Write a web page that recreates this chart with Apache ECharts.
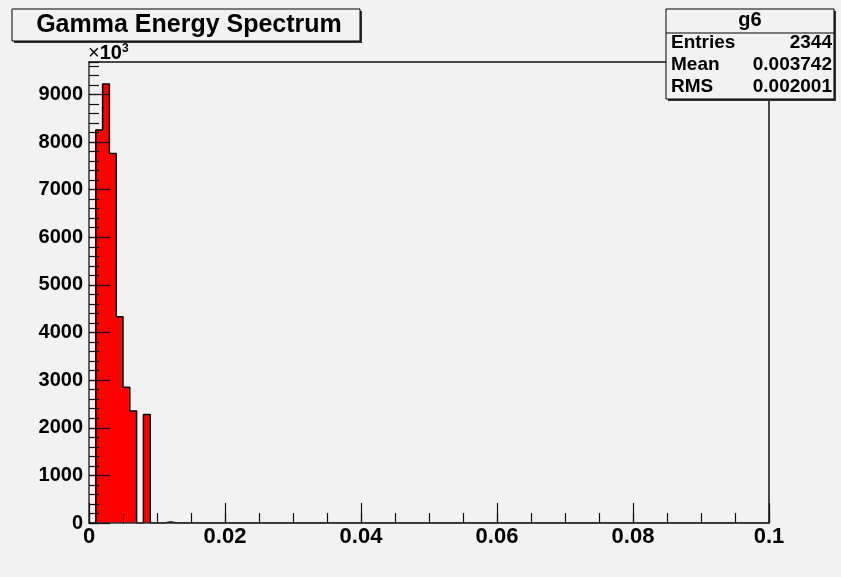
<!DOCTYPE html>
<html>
<head>
<meta charset="utf-8">
<script src="https://cdn.jsdelivr.net/npm/echarts@6/dist/echarts.min.js"></script>
<style>
html,body{margin:0;padding:0;background:#f2f2f2;}
#chart{width:841px;height:577px;}
</style>
</head>
<body>
<div id="chart"></div>
<script>
// ---- data (values in units of 10^3) ----
const histTitle = "Gamma Energy Spectrum";
const histName = "g6";
const xMin = 0, xMax = 0.1, nBins = 100;
const filledBinIndex = [1, 2, 3, 4, 5, 6, 8, 11];
const filledBinCounts = [8250, 9220, 7760, 4330, 2850, 2350, 2280, 20];
const yMax = 9680;
const xTickLabels = ["0", "0.02", "0.04", "0.06", "0.08", "0.1"];
const statsLabels = ["Entries", "Mean", "RMS"];
const statsValues = ["2344", "0.003742", "0.002001"];

// build full bin contents from the sparse lists
const binWidth = (xMax - xMin) / nBins;
const counts = new Array(nBins).fill(0);
filledBinIndex.forEach((b, i) => { counts[b] = filledBinCounts[i]; });
const stepData = counts.map((c, i) => [xMin + i * binWidth, c]);
stepData.push([xMax, 0]);

const FONT = 'Liberation Sans';
const chart = echarts.init(document.getElementById('chart'), null, {renderer: 'canvas'});

const commonAxis = {
  type: 'value', min: xMin, max: xMax, z: 5,
  splitLine: {show: false}
};

const statFont = 'bold 19px "Liberation Sans"';
const statTexts = [];
statsLabels.forEach((lab, i) => {
  const y = 43 + i * 22;
  statTexts.push({type: 'text', x: 671, y: y, style: {text: lab, font: statFont, fill: '#000', align: 'left', verticalAlign: 'middle'}, z: 12});
  statTexts.push({type: 'text', x: 832, y: y, style: {text: statsValues[i], font: statFont, fill: '#000', align: 'right', verticalAlign: 'middle'}, z: 12});
});

chart.setOption({
  backgroundColor: '#f2f2f2',
  animation: false,
  grid: {left: 89, right: 72, top: 62, bottom: 54},
  xAxis: [
    Object.assign({}, commonAxis, {
      position: 'bottom', interval: 0.02,
      axisLine: {show: true, onZero: false, lineStyle: {color: '#333', width: 1.5}},
      axisTick: {show: true, inside: true, length: 20, lineStyle: {color: '#111', width: 1.2}},
      axisLabel: {
        margin: 3, fontFamily: FONT, fontWeight: 'bold', fontSize: 22, color: '#000',
        formatter: (v) => { const i = Math.round(v / 0.02); return xTickLabels[i] !== undefined ? xTickLabels[i] : ''; }
      }
    }),
    Object.assign({}, commonAxis, {
      position: 'bottom', interval: 0.005,
      axisLine: {show: false, onZero: false},
      axisTick: {show: true, inside: true, length: 10, lineStyle: {color: '#111', width: 1.2}},
      axisLabel: {show: false}
    }),
    Object.assign({}, commonAxis, {
      position: 'top', interval: 0.02,
      axisLine: {show: true, onZero: false, lineStyle: {color: '#111', width: 1.5}},
      axisTick: {show: false}, axisLabel: {show: false}
    })
  ],
  yAxis: [
    {
      type: 'value', position: 'left', min: 0, max: yMax, interval: 1000, z: 5,
      splitLine: {show: false},
      axisLine: {show: true, onZero: false, lineStyle: {color: '#333', width: 1.5}},
      axisTick: {show: true, inside: true, length: 21, lineStyle: {color: '#111', width: 1.2}},
      axisLabel: {
        margin: 6, fontFamily: FONT, fontWeight: 'bold', fontSize: 20, color: '#000',
        showMaxLabel: false,
        formatter: (v) => (v % 1000 === 0 ? String(v) : '')
      }
    },
    {
      type: 'value', position: 'left', min: 0, max: yMax, interval: 200, z: 5,
      splitLine: {show: false},
      axisLine: {show: false, onZero: false},
      axisTick: {show: true, inside: true, length: 10, lineStyle: {color: '#111', width: 1.2}},
      axisLabel: {show: false}
    },
    {
      type: 'value', position: 'right', min: 0, max: yMax, interval: 1000, z: 5,
      splitLine: {show: false},
      axisLine: {show: true, onZero: false, lineStyle: {color: '#111', width: 1.5}},
      axisTick: {show: false}, axisLabel: {show: false}
    }
  ],
  series: [{
    type: 'line', name: histName, xAxisIndex: 0, yAxisIndex: 0,
    data: stepData, step: 'end', showSymbol: false, symbol: 'none', z: 1,
    lineStyle: {color: '#000', width: 1.5},
    areaStyle: {color: '#ff0000', opacity: 1},
    silent: true
  }],
  graphic: [
    // title box
    {type: 'rect', shape: {x: 14, y: 11, width: 348, height: 32}, style: {fill: '#333'}, z: 10},
    {type: 'rect', shape: {x: 12, y: 9, width: 348, height: 32}, style: {fill: '#f2f2f2', stroke: '#000', lineWidth: 1}, z: 11},
    {type: 'text', x: 189, y: 25, style: {text: histTitle, font: 'bold 25px "Liberation Sans"', fill: '#000', align: 'center', verticalAlign: 'middle'}, z: 12},
    // x10^3 multiplier
    {type: 'text', x: 88, y: 53, z: 12, style: {
      text: '{x|×}{a|10}{s|3}', verticalAlign: 'middle', align: 'left',
      rich: {
        x: {fontFamily: FONT, fontSize: 20, fill: '#000', verticalAlign: 'bottom'},
        a: {fontFamily: FONT, fontWeight: 'bold', fontSize: 20, fill: '#000', verticalAlign: 'bottom'},
        s: {fontFamily: FONT, fontWeight: 'bold', fontSize: 12, fill: '#000', verticalAlign: 'top', padding: [0, 0, 9, 0]}
      }
    }},
    // stats box
    {type: 'rect', shape: {x: 668, y: 11, width: 168, height: 90}, style: {fill: '#333'}, z: 10},
    {type: 'rect', shape: {x: 666, y: 9, width: 168, height: 90}, style: {fill: '#f2f2f2', stroke: '#000', lineWidth: 1}, z: 11},
    {type: 'line', shape: {x1: 666, y1: 33, x2: 834, y2: 33}, style: {stroke: '#000', lineWidth: 1}, z: 12},
    {type: 'text', x: 750, y: 20, style: {text: histName, font: 'bold 20px "Liberation Sans"', fill: '#000', align: 'center', verticalAlign: 'middle'}, z: 12}
  ].concat(statTexts)
});
</script>
</body>
</html>
